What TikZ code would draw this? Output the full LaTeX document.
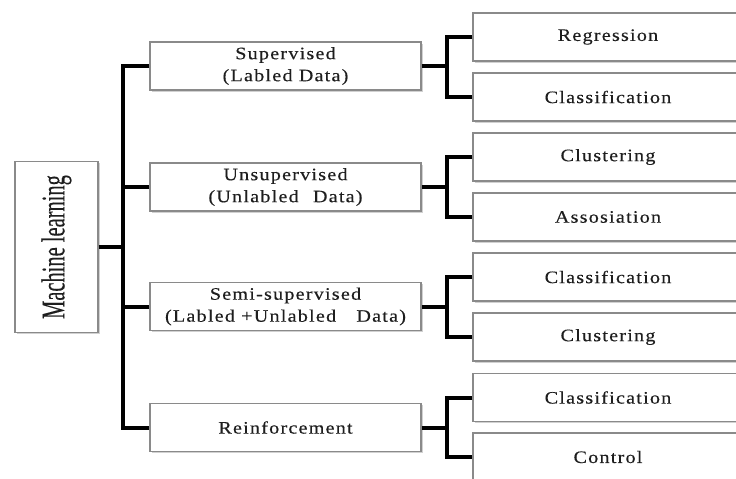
\documentclass[tikz,border=0pt]{standalone}
\usepackage{fontspec}
\setmainfont{Liberation Serif}
\newfontfamily\boxfont{Liberation Serif}[LetterSpace=7, FakeStretch=1.15, FakeBold=0.3]
\usetikzlibrary{shadows}
\definecolor{txt}{HTML}{1E1E1E}
\definecolor{bord}{HTML}{8A8A8A}
\tikzset{
  box/.style={draw=bord, line width=1.1pt, fill=white, text=txt,
    drop shadow={shadow xshift=1.5pt, shadow yshift=-1.8pt, fill=gray!45, opacity=0.8},
    align=center, inner sep=0pt, font=\boxfont\fontsize{17.5}{22}\selectfont},
  midbox/.style={box, minimum width=271pt, minimum height=48pt},
  leafbox/.style={box, minimum width=270pt, minimum height=48pt},
  conn/.style={line width=4pt, line join=miter, draw=black}
}
\begin{document}
\begin{tikzpicture}[x=1pt, y=-1pt]
\useasboundingbox (0,0) rectangle (736,479);
\clip (0,0) rectangle (736,479);
\fill[white] (0,0) rectangle (736,479);
% root
\node[box, minimum width=83pt, minimum height=171pt] (ml) at (56.5,247)
  {\rotatebox{90}{\scalebox{0.62}[1]{\fontspec{Liberation Serif}[FakeBold=0.3]\fontsize{33}{36}\selectfont Machine learning}}};
% middle
\node[midbox] (sup) at (285.5,66) {Supervised\\(Labled Data)};
\node[midbox] (uns) at (285.5,187) {Unsupervised\\(Unlabled\hspace{8pt} Data)};
\node[midbox] (semi) at (285.5,306.5) {Semi-supervised\\(Labled +Unlabled\hspace{14pt} Data)};
\node[midbox] (rei) at (285.5,427.5) {Reinforcement};
% leaves
\node[leafbox] (r1) at (608,37) {Regression};
\node[leafbox] (r2) at (608,97) {Classification};
\node[leafbox] (u1) at (608,157) {Clustering};
\node[leafbox] (u2) at (608,217) {Assosiation};
\node[leafbox] (s1) at (608,277) {Classification};
\node[leafbox] (s2) at (608,337) {Clustering};
\node[leafbox] (f1) at (608,397.5) {Classification};
\node[leafbox] (f2) at (608,457) {Control};
% connectors
\coordinate (tr) at (123,0);
\coordinate (st) at (447,0);
\draw[conn] (ml.east) -- (ml.east -| tr);
\draw[conn] (sup.west) -- (sup.west -| tr) -- (rei.west -| tr) -- (rei.west);
\draw[conn] (uns.west) -- (uns.west -| tr);
\draw[conn] (semi.west) -- (semi.west -| tr);
\foreach \m/\a/\b in {sup/r1/r2, uns/u1/u2, semi/s1/s2, rei/f1/f2}{
  \draw[conn] (\m.east) -- (\m.east -| st);
  \draw[conn] (\a.west) -- (\a.west -| st) -- (\b.west -| st) -- (\b.west);
}
\end{tikzpicture}
\end{document}
